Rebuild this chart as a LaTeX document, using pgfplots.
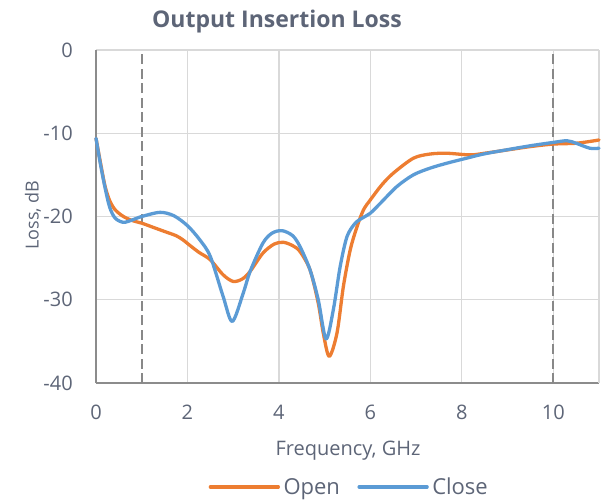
\documentclass[border=0pt]{standalone}
\usepackage{pgfplots}
\pgfplotsset{compat=1.18}
\usepackage{fontspec}
\setmainfont{Open Sans}
\definecolor{txt}{HTML}{5D6577}
\definecolor{gridc}{HTML}{D9D9D9}
\definecolor{axc}{HTML}{8C8C8C}
\definecolor{dashc}{HTML}{888888}
\definecolor{openc}{HTML}{ED7D31}
\definecolor{closec}{HTML}{5B9BD5}
\begin{document}
\begin{tikzpicture}[x=1pt,y=1pt]
\useasboundingbox (-96,-116) rectangle (509,383);
\begin{axis}[
  at={(0,0)}, anchor=south west,
  scale only axis, width=503pt, height=333pt,
  xmin=0, xmax=11, ymin=-40, ymax=0,
  xtick={0,2,4,6,8,10}, xticklabels={0,2,4,6,8,10},
  ytick={-40,-30,-20,-10,0}, yticklabels={-40,-30,-20,-10,0},
  extra x ticks={11}, extra x tick labels={},
  extra x tick style={grid=major},
  major tick length=0pt,
  axis lines=left,
  axis line style={-, draw=axc, line width=1.4pt},
  xmajorgrids, ymajorgrids,
  major grid style={draw=gridc, line width=1.3pt},
  xticklabel style={font=\fontsize{20}{24}\selectfont, text=txt, anchor=center, yshift=-29pt},
  yticklabel style={font=\fontsize{20}{24}\selectfont, text=txt, anchor=east, inner sep=0pt, xshift=-23pt},
  clip=false,
  legend style={at={(0.505,-0.312)}, anchor=center, draw=none, fill=none,
    legend columns=2, font=\fontsize{22}{26}\selectfont, text=txt,
    /tikz/every even column/.style={column sep=14pt},
    nodes={inner sep=3.5pt}},
  legend image code/.code={\draw[#1, line cap=round] (0pt,0pt) -- (68pt,0pt);},
]
\draw[dashc, line width=1.8pt, dash pattern=on 10pt off 4.5pt] (axis cs:1,-40) -- (axis cs:1,0);
\draw[dashc, line width=1.8pt, dash pattern=on 10pt off 4.5pt] (axis cs:10,-40) -- (axis cs:10,0);
\addplot[openc, line width=3.3pt, smooth, tension=0.5, line cap=round, line join=round] coordinates {
(0,-10.6) (0.1,-13.6) (0.2,-16.4) (0.3,-18.1) (0.42,-19.2) (0.6,-20.0) (0.8,-20.5) (1.0,-20.8)
(1.25,-21.3) (1.5,-21.8) (1.75,-22.3) (1.9,-22.8) (2.06,-23.5) (2.25,-24.3) (2.5,-25.2)
(2.78,-27.0) (3.0,-27.8) (3.2,-27.5) (3.37,-26.6) (3.65,-24.4) (3.9,-23.3) (4.1,-23.1)
(4.3,-23.5) (4.46,-24.2) (4.68,-26.4) (4.86,-30.4) (4.97,-34.0) (5.1,-36.8) (5.27,-34.0)
(5.41,-28.4) (5.56,-24.0) (5.71,-21.2) (5.85,-19.2) (6.0,-18.0) (6.25,-16.2) (6.5,-14.8)
(6.94,-13.0) (7.3,-12.5) (7.67,-12.4) (8.18,-12.6) (8.5,-12.4) (9.0,-12.0) (9.5,-11.6)
(10.0,-11.3) (10.5,-11.2) (10.9,-10.9) (11.0,-10.8)
};
\addlegendentry{Open}
\addplot[closec, line width=3.3pt, smooth, tension=0.5, line cap=round, line join=round] coordinates {
(0,-10.6) (0.1,-13.8) (0.2,-16.6) (0.3,-18.9) (0.42,-20.2) (0.6,-20.7) (0.8,-20.4) (1.0,-20.0)
(1.4,-19.5) (1.7,-19.9) (2.0,-21.1) (2.27,-22.8) (2.5,-24.8) (2.78,-29.6) (2.98,-32.6)
(3.22,-29.2) (3.37,-26.6) (3.65,-23.2) (3.85,-22.0) (4.07,-21.7) (4.3,-22.3) (4.46,-23.6)
(4.68,-26.4) (4.86,-30.0) (5.03,-34.7) (5.19,-31.2) (5.34,-26.0) (5.49,-22.4) (5.67,-20.8)
(5.85,-20.1) (6.0,-19.6) (6.22,-18.4) (6.58,-16.4) (6.94,-15.0) (7.3,-14.2) (7.67,-13.6)
(8.03,-13.1) (8.47,-12.5) (8.97,-12.0) (9.5,-11.5) (10.0,-11.1) (10.3,-10.9) (10.5,-11.2)
(10.8,-11.8) (11.0,-11.8)
};
\addlegendentry{Close}
\end{axis}
\node[font=\bfseries\fontsize{23}{27}\selectfont, text=txt] at (181,361) {Output Insertion Loss};
\node[font=\fontsize{20}{24}\selectfont, text=txt] at (252,-68) {Frequency, GHz};
\node[font=\fontsize{18}{22}\selectfont, text=txt, rotate=90] at (-63,168) {Loss, dB};
\end{tikzpicture}
\end{document}
